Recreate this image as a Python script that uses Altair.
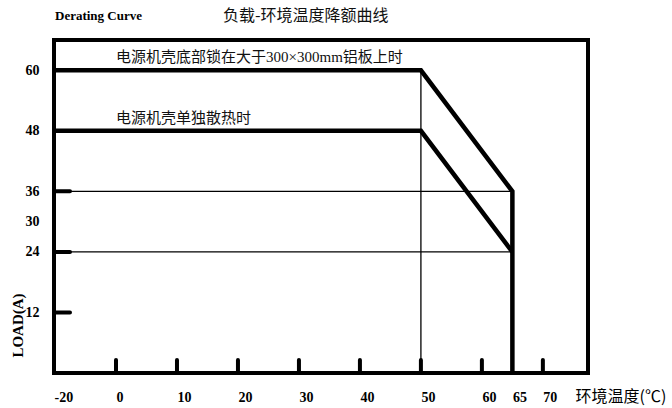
import altair as alt
import pandas as pd

# ---------------- data ----------------
x_label_values = [-20, 0, 10, 20, 30, 40, 50, 60, 65, 70]
y_label_values = [12, 24, 30, 36, 48, 60]
x_tick_values = [0, 10, 20, 30, 40, 50, 60, 70]
y_tick_values = [12, 24, 36]

curve1_temp = [-20, 50, 65, 65]
curve1_load = [60, 60, 36, 0]
curve2_temp = [-20, 50, 65]
curve2_load = [48, 48, 24]

guide_h_load = [36, 24]
guide_h_start = [-20, -20]
guide_h_end = [65, 65]
guide_v_temp = [50]
guide_v_bottom = [0]
guide_v_top = [60]

annot_texts = ["电源机壳底部锁在大于300×300mm铝板上时", "电源机壳单独散热时"]
annot_temp = [0, 0]
annot_load = [60, 48]

title_en = "Derating Curve"
title_cn = "负载-环境温度降额曲线"
x_title = "环境温度(℃)"
y_title = "LOAD(A)"

x_domain = [-20, 0, 77.4]
y_domain = [0, 66]

# ---------------- layout ----------------
W, H = 534, 333
x_range = [0, 62, W]

curves = pd.DataFrame({
    "temp": curve1_temp + curve2_temp,
    "load": curve1_load + curve2_load,
    "series": ["a"] * len(curve1_temp) + ["b"] * len(curve2_temp),
    "order": list(range(len(curve1_temp))) + list(range(len(curve2_temp))),
})
hlines = pd.DataFrame({"load": guide_h_load, "temp": guide_h_start, "t1": guide_h_end})
vlines = pd.DataFrame({"temp": guide_v_temp, "load": guide_v_bottom, "l1": guide_v_top})
xt = pd.DataFrame({"temp": x_tick_values})
yt = pd.DataFrame({"load": y_tick_values})
ann = pd.DataFrame({"text": annot_texts, "temp": annot_temp, "load": annot_load})

xscale = alt.Scale(domain=x_domain, range=x_range, nice=False, zero=False)
yscale = alt.Scale(domain=y_domain, nice=False, zero=False)

label_font = "Liberation Serif"
cjk_font = "Noto Sans CJK SC"

xaxis = alt.Axis(
    values=x_label_values, labelExpr="'' + datum.value", domain=False, ticks=False, grid=False,
    labelFont=label_font, labelFontWeight="bold", labelFontSize=14, labelColor="black",
    labelAlign="left", labelBaseline="middle", labelPadding=24,
    title=x_title, titleFont=cjk_font, titleFontWeight="normal", titleFontSize=16,
    titleColor="black", titleX=521, titleY=23, titleAlign="left", titleBaseline="middle",
)
yaxis = alt.Axis(
    values=y_label_values, format="d", domain=False, ticks=False, grid=False,
    labelFont=label_font, labelFontWeight="bold", labelFontSize=14, labelColor="black",
    labelPadding=15,
    title=y_title, titleFont=label_font, titleFontWeight="bold", titleFontSize=15,
    titleColor="black", titleX=-37, titleY=285, titleAlign="center", titleBaseline="middle",
    titleAngle=270,
)

X = alt.X("temp:Q", scale=xscale, axis=xaxis)
Y = alt.Y("load:Q", scale=yscale, axis=yaxis)

curve_layer = alt.Chart(curves).mark_line(
    color="black", strokeWidth=4.5, strokeJoin="miter"
).encode(x=X, y=Y, detail="series:N", order="order:Q")

h_layer = alt.Chart(hlines).mark_rule(color="black", strokeWidth=1.3).encode(
    x=X, x2="t1:Q", y=Y,
)
v_layer = alt.Chart(vlines).mark_rule(color="black", strokeWidth=1.3).encode(
    x=X, y=Y, y2="l1:Q",
)
xtick_layer = alt.Chart(xt).mark_rule(color="black", strokeWidth=4, strokeCap="round").encode(
    x=X, y=alt.value(H), y2=alt.value(H - 13),
)
ytick_layer = alt.Chart(yt).mark_rule(color="black", strokeWidth=4, strokeCap="round").encode(
    y=Y, x=alt.value(0), x2=alt.value(16),
)
ann_layer = alt.Chart(ann).mark_text(
    font=f"{label_font}, {cjk_font}", fontSize=15, align="left", baseline="middle",
    dy=-13, dx=0, color="#111"
).encode(x=X, y=Y, text="text:N")
t_en = alt.Chart(pd.DataFrame({"t": [title_en]})).mark_text(
    font=label_font, fontWeight="bold", fontSize=13, align="left", baseline="middle", color="black"
).encode(x=alt.value(1), y=alt.value(-24), text="t:N")
t_cn = alt.Chart(pd.DataFrame({"t": [title_cn]})).mark_text(
    font=cjk_font, fontSize=16, align="left", baseline="middle", color="#111"
).encode(x=alt.value(169), y=alt.value(-24), text="t:N")

chart = alt.layer(
    curve_layer, h_layer, v_layer, xtick_layer, ytick_layer, ann_layer, t_en, t_cn
).properties(
    width=W, height=H,
    autosize=alt.AutoSizeParams(type="none"),
    padding={"left": 54, "top": 40, "right": 84, "bottom": 35},
    background="white",
).configure_view(stroke="black", strokeWidth=4)

chart.save("out.html", embed_options={"renderer": "svg", "actions": False})
